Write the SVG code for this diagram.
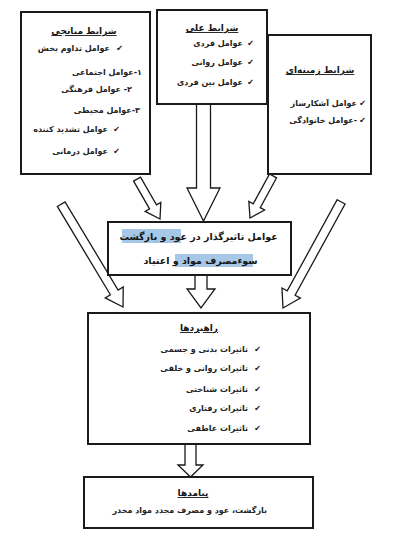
<svg xmlns="http://www.w3.org/2000/svg" width="400" height="541" viewBox="0 0 400 541">
<style>
.box{fill:#fff;stroke:#1a1a1a;stroke-width:2}
.arr{fill:#fff;stroke:#1a1a1a;stroke-width:1.3;stroke-linejoin:miter}
text{font-family:"DejaVu Sans",sans-serif;fill:#151515}
.t{font-size:9px;font-weight:bold;text-anchor:middle;text-decoration:underline;direction:rtl}
.i{font-size:8px;font-weight:bold;direction:rtl;text-anchor:start;fill:#222}
.c{font-size:8px;text-anchor:middle}
.m{font-size:9.5px;font-weight:bold;text-anchor:middle;direction:rtl}
.hl{fill:#a6c8e6}
</style>
<rect width="400" height="541" fill="#fff"/>
<g id="connectors">
<polygon class="arr" transform="translate(160,219) rotate(-29.9)" points="-4,-46 4,-46 4,-14 9,-14 0,0 -9,-14 -4,-14"/>
<polygon class="arr" points="196.5,104 210.5,104 210.5,188 220,188 203.5,221 187,188 196.5,188"/>
<polygon class="arr" transform="translate(250,218) rotate(28.7)" points="-4,-48 4,-48 4,-14 9,-14 0,0 -9,-14 -4,-14"/>
<polygon class="arr" transform="translate(123,307) rotate(-31)" points="-4.5,-120 4.5,-120 4.5,-17 10.5,-17 0,0 -10.5,-17 -4.5,-17"/>
<polygon class="arr" transform="translate(283,308) rotate(28.7)" points="-4.5,-121 4.5,-121 4.5,-17 10.5,-17 0,0 -10.5,-17 -4.5,-17"/>
<polygon class="arr" points="195,275 207,275 207,289 215,289 201,308 187,289 195,289"/>
<polygon class="arr" points="185,444 196,444 196,465 203,465 190.5,477 178,465 185,465"/>
</g>
<g id="mediating">
<rect class="box" x="21" y="12" width="129" height="162"/>
<text class="t" x="84" y="34">شرایط میانجی</text>
<text class="c" x="119.5" y="51">✔</text>
<text class="i" x="110" y="51">عوامل تداوم بخش</text>
<text class="i" x="142" y="75">۱-عوامل اجتماعی</text>
<text class="i" x="132" y="92">۲- عوامل فرهنگی</text>
<text class="i" x="140" y="113">۳-عوامل محیطی</text>
<text class="c" x="116.5" y="132">✔</text>
<text class="i" x="108" y="132">عوامل تشدید کننده</text>
<text class="c" x="116.5" y="154">✔</text>
<text class="i" x="108" y="154">عوامل درمانی</text>
</g>
<g id="causal">
<rect class="box" x="157" y="10" width="110" height="94"/>
<text class="t" x="212" y="31">شرایط علی</text>
<text class="c" x="250.5" y="46">✔</text>
<text class="i" x="243" y="46">عوامل فردی</text>
<text class="c" x="250.5" y="65">✔</text>
<text class="i" x="243" y="65">عوامل روانی</text>
<text class="c" x="250.5" y="85">✔</text>
<text class="i" x="243" y="85">عوامل بین فردی</text>
</g>
<g id="context">
<rect class="box" x="268" y="35" width="103" height="139"/>
<text class="t" x="320" y="73">شرایط زمینه‌ای</text>
<text class="c" x="362.5" y="106">✔</text>
<text class="i" x="357" y="106">عوامل آشکارساز</text>
<text class="c" x="362.5" y="123">✔</text>
<text class="i" x="357" y="123">-عوامل خانوادگی</text>
</g>
<g id="factors">
<rect class="box" x="108" y="222" width="183" height="53"/>
<rect class="hl" x="122" y="229" width="59" height="14"/>
<rect class="hl" x="175" y="254" width="78" height="13"/>
<text class="m" x="198.5" y="240">عوامل تاثیرگذار در عود و بازگشت</text>
<text class="m" x="200.5" y="264">سوءمصرف مواد و اعتیاد</text>
</g>
<g id="strategies">
<rect class="box" x="88" y="313" width="222" height="131"/>
<text class="t" x="199" y="331">راهبردها</text>
<text class="c" x="257.5" y="352">✔</text>
<text class="i" x="248" y="352">تاثیرات بدنی و جسمی</text>
<text class="c" x="257.5" y="371">✔</text>
<text class="i" x="248" y="371">تاثیرات روانی و خلقی</text>
<text class="c" x="257.5" y="392">✔</text>
<text class="i" x="248" y="392">تاثیرات شناختی</text>
<text class="c" x="257.5" y="411">✔</text>
<text class="i" x="248" y="411">تاثیرات رفتاری</text>
<text class="c" x="257.5" y="431">✔</text>
<text class="i" x="248" y="431">تاثیرات عاطفی</text>
</g>
<g id="consequences">
<rect class="box" x="84" y="477" width="229" height="51"/>
<text class="t" x="193" y="496">پیامدها</text>
<text class="i" x="267" y="513">بازگشت، عود و مصرف مجدد مواد مخدر</text>
</g>
</svg>
